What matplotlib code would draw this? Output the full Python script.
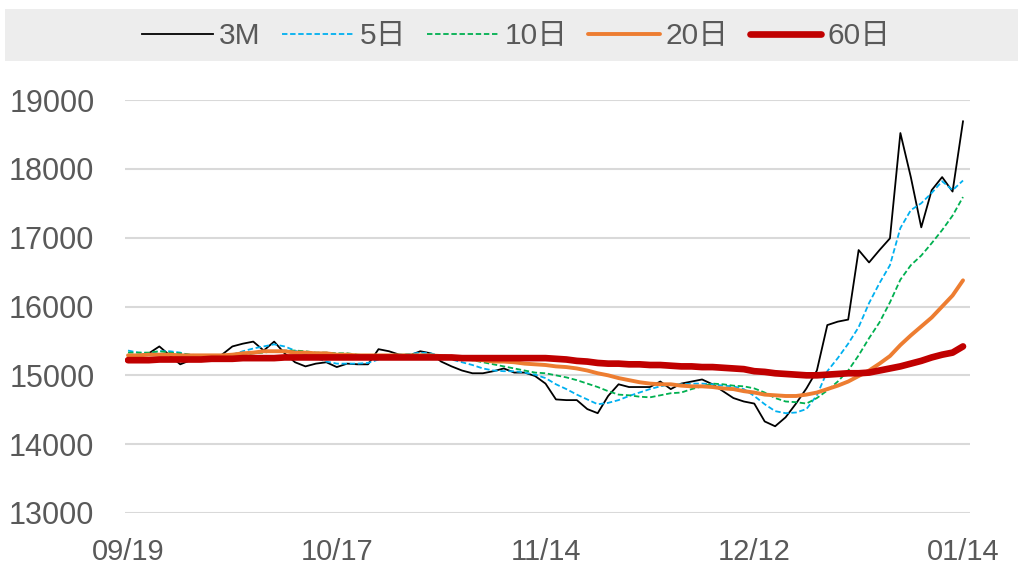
import numpy as np
import matplotlib
matplotlib.use("Agg")
import matplotlib.pyplot as plt
from matplotlib.patches import Rectangle

plt.rcParams['font.family'] = ['Liberation Sans', 'Noto Sans CJK SC', 'DejaVu Sans']

# 数据（按交易日顺序，共81个点）
tick_labels = ["09/19", "10/17", "11/14", "12/12", "01/14"]
tick_idx = [0, 20, 40, 60, 80]

s_3m = [15270, 15290, 15320, 15420, 15290, 15160, 15220, 15220, 15260, 15300,
        15420, 15460, 15490, 15360, 15490, 15320, 15190, 15130, 15170, 15190,
        15120, 15170, 15160, 15160, 15380, 15350, 15300, 15290, 15350, 15320,
        15200, 15130, 15070, 15030, 15030, 15060, 15100, 15040, 15040, 14990,
        14880, 14650, 14640, 14640, 14510, 14450, 14700, 14870, 14830, 14830,
        14830, 14910, 14800, 14880, 14910, 14940, 14870, 14770, 14670, 14620,
        14590, 14330, 14260, 14390, 14590, 14810, 15070, 15730, 15780, 15810,
        16820, 16640, 16820, 16990, 18520, 17880, 17150, 17690, 17880, 17670,
        18690]

ma5 = [15360, 15330, 15320, 15350, 15350, 15330, 15290, 15260, 15260, 15260,
       15300, 15350, 15390, 15420, 15450, 15420, 15360, 15300, 15250, 15200,
       15170, 15170, 15170, 15180, 15230, 15280, 15300, 15310, 15330, 15320,
       15280, 15230, 15190, 15150, 15100, 15070, 15060, 15060, 15040, 15010,
       14960, 14870, 14800, 14720, 14650, 14580, 14600, 14640, 14700, 14750,
       14800, 14840, 14870, 14870, 14880, 14880, 14870, 14850, 14840, 14800,
       14700, 14580, 14480, 14450, 14460, 14510, 14710, 15060, 15250, 15460,
       15700, 16050, 16340, 16600, 17140, 17400, 17500, 17650, 17820, 17690,
       17830]

ma10 = [15330, 15330, 15330, 15350, 15330, 15320, 15300, 15290, 15280, 15280,
        15280, 15290, 15320, 15330, 15350, 15360, 15360, 15350, 15330, 15330,
        15320, 15320, 15300, 15290, 15290, 15290, 15300, 15300, 15300, 15300,
        15290, 15280, 15250, 15220, 15190, 15160, 15130, 15100, 15070, 15040,
        15030, 15000, 14970, 14930, 14880, 14830, 14770, 14720, 14710, 14690,
        14680, 14710, 14740, 14750, 14800, 14840, 14880, 14870, 14850, 14840,
        14810, 14750, 14670, 14620, 14610, 14590, 14670, 14780, 14910, 15070,
        15290, 15540, 15770, 16060, 16390, 16600, 16740, 16920, 17110, 17320,
        17590]

ma20 = [15290, 15290, 15300, 15300, 15300, 15290, 15290, 15290, 15290, 15290,
        15300, 15320, 15330, 15350, 15350, 15350, 15330, 15330, 15320, 15320,
        15300, 15300, 15290, 15290, 15290, 15290, 15290, 15290, 15290, 15290,
        15280, 15260, 15250, 15230, 15220, 15200, 15200, 15190, 15170, 15160,
        15150, 15130, 15120, 15100, 15070, 15030, 15000, 14960, 14930, 14900,
        14880, 14870, 14870, 14850, 14840, 14840, 14830, 14810, 14800, 14770,
        14750, 14720, 14710, 14700, 14700, 14720, 14750, 14800, 14850, 14910,
        14990, 15070, 15170, 15280, 15440, 15580, 15710, 15840, 16000, 16160,
        16380]

ma60 = [15220, 15220, 15220, 15230, 15230, 15230, 15230, 15230, 15240, 15240,
        15240, 15250, 15250, 15250, 15250, 15260, 15260, 15260, 15260, 15260,
        15260, 15260, 15260, 15260, 15260, 15260, 15260, 15260, 15260, 15260,
        15260, 15260, 15250, 15250, 15250, 15250, 15250, 15250, 15250, 15250,
        15250, 15240, 15230, 15210, 15200, 15180, 15170, 15170, 15160, 15160,
        15150, 15150, 15140, 15130, 15130, 15120, 15120, 15110, 15100, 15090,
        15060, 15050, 15030, 15020, 15010, 15000, 15000, 15010, 15020, 15030,
        15030, 15040, 15070, 15100, 15130, 15170, 15210, 15260, 15300, 15330,
        15420]

x = np.arange(len(s_3m))

fig = plt.figure(figsize=(10.22, 5.68), dpi=100)
ax = fig.add_axes([125 / 1022, 1 - 513 / 568, 845 / 1022, 413 / 568])

ax.plot(x, s_3m, color="black", lw=1.3, label="3M")
ax.plot(x, ma5, color="#00B0F0", lw=1.3, dashes=(3, 1.5), label="5日")
ax.plot(x, ma10, color="#00B050", lw=1.3, dashes=(3, 1.5), label="10日")
ax.plot(x, ma20, color="#ED7D31", lw=2.8, solid_capstyle="round", label="20日")
ax.plot(x, ma60, color="#C00000", lw=4.8, solid_capstyle="round", label="60日")

ax.set_xlim(-0.29, 80.67)
ax.set_ylim(13000, 19000)
ax.set_yticks(range(13000, 19001, 1000))
ax.set_xticks(tick_idx)
ax.set_xticklabels(tick_labels)
ax.grid(axis="y", color="#d9d9d9", lw=1.5)
ax.set_axisbelow(True)
for s in ax.spines.values():
    s.set_visible(False)
ax.tick_params(length=0, labelsize=21, colors="#595959")
ax.tick_params(axis="y", pad=22, labelsize=22)
ax.tick_params(axis="x", pad=18)

# 图例背景
fig.patches.append(Rectangle((5 / 1022, 1 - 61 / 568), 1013 / 1022, 52 / 568,
                             transform=fig.transFigure, facecolor="#ededed",
                             edgecolor="none", zorder=0))
leg = fig.legend(loc="center", bbox_to_anchor=(516 / 1022, 1 - 36 / 568), ncol=5,
                 frameon=False, fontsize=21.5, handlelength=2.4, handletextpad=0.2,
                 columnspacing=0.7, borderaxespad=0)
for t in leg.get_texts():
    t.set_color("#595959")

fig.savefig("out.png", dpi=100)
